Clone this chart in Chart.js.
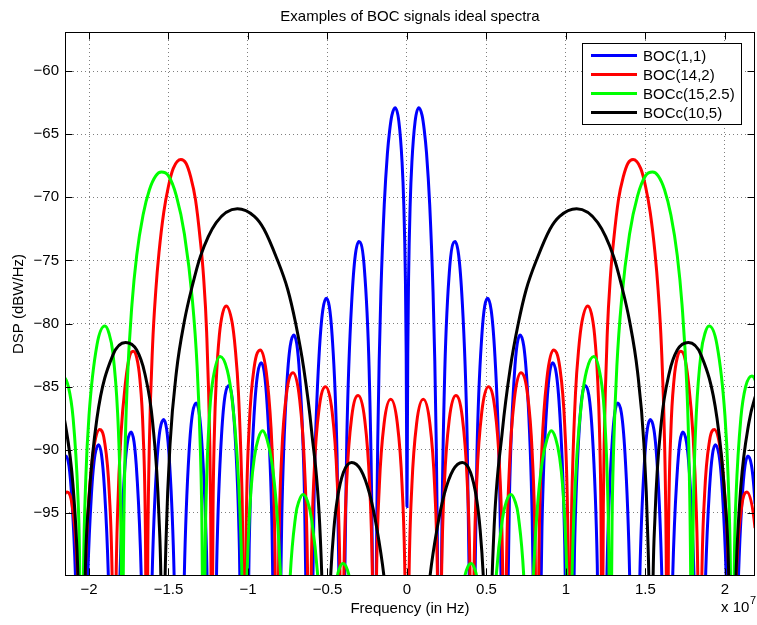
<!DOCTYPE html>
<html>
<head>
<meta charset="utf-8">
<script src="https://cdn.jsdelivr.net/npm/chart.js@4.4.1/dist/chart.umd.min.js"></script>
<style>
  html, body { margin: 0; padding: 0; background: #fff; }
  #wrap { width: 757px; height: 625px; }
</style>
</head>
<body>
<div id="wrap"><canvas id="bocChart" width="757" height="625"></canvas></div>
<script>
// Frequencies in units of 1e7 Hz, levels in dBW/Hz.
// Values far below -100 only mark the spectral nulls, which sit under the axis.
const xTickValues = [-2, -1.5, -1, -0.5, 0, 0.5, 1, 1.5, 2];
const yTickValues = [-95, -90, -85, -80, -75, -70, -65, -60];
const seriesNames = ['BOC(1,1)', 'BOC(14,2)', 'BOCc(15,2.5)', 'BOCc(10,5)'];

const blueFreq = [
  -2.2506, -2.2383, -2.2199, -2.1892, -2.1442, -2.1074, -2.0767, -2.0583,
  -2.046, -2.0337, -2.0153, -1.9846, -1.9396, -1.9028, -1.8721, -1.8537,
  -1.8414, -1.8291, -1.8107, -1.7800, -1.7350, -1.6982, -1.6675, -1.6491,
  -1.6368, -1.6245, -1.6061, -1.5754, -1.5304, -1.4936, -1.4629, -1.4445,
  -1.4322, -1.4199, -1.4015, -1.3708, -1.3258, -1.2890, -1.2583, -1.2399,
  -1.2276, -1.2153, -1.1969, -1.1662, -1.1212, -1.0844, -1.0537, -1.0353,
  -1.023, -1.0107, -0.9923, -0.9616, -0.9166, -0.8798, -0.8491, -0.8307,
  -0.8184, -0.8061, -0.7877, -0.7570, -0.7120, -0.6752, -0.6445, -0.6261,
  -0.6138, -0.6015, -0.5831, -0.5524, -0.5074, -0.4706, -0.4399, -0.4215,
  -0.4092, -0.3969, -0.3785, -0.3478, -0.3028, -0.2660, -0.2353, -0.2169,
  -0.2046, -0.194, -0.190, -0.184, -0.175, -0.164, -0.143, -0.123, -0.109, -0.095, -0.074, -0.051, -0.031, -0.020, -0.010, -0.005, -0.002,
  0,
  0.002, 0.005, 0.010, 0.020, 0.031, 0.051, 0.074, 0.095, 0.109, 0.123, 0.143, 0.164, 0.175, 0.184, 0.190, 0.194, 0.2046,
  0.2169, 0.2353, 0.2660, 0.3028, 0.3478, 0.3785, 0.3969, 0.4092,
  0.4215, 0.4399, 0.4706, 0.5074, 0.5524, 0.5831, 0.6015, 0.6138,
  0.6261, 0.6445, 0.6752, 0.7120, 0.7570, 0.7877, 0.8061, 0.8184,
  0.8307, 0.8491, 0.8798, 0.9166, 0.9616, 0.9923, 1.0107, 1.023,
  1.0353, 1.0537, 1.0844, 1.1212, 1.1662, 1.1969, 1.2153, 1.2276,
  1.2399, 1.2583, 1.2890, 1.3258, 1.3708, 1.4015, 1.4199, 1.4322,
  1.4445, 1.4629, 1.4936, 1.5304, 1.5754, 1.6061, 1.6245, 1.6368,
  1.6491, 1.6675, 1.6982, 1.7350, 1.7800, 1.8107, 1.8291, 1.8414,
  1.8537, 1.8721, 1.9028, 1.9396, 1.9846, 2.0153, 2.0337, 2.046,
  2.0583, 2.0767, 2.1074, 2.1442, 2.1892, 2.2199, 2.2383, 2.2506
];
const blueDb = [
  -135, -120.0, -104.5, -94.3, -90.5, -94.0, -103.9, -119.2,
  -134, -119.1, -103.6, -93.5, -89.6, -93.1, -103.0, -118.3,
  -133, -118.2, -102.7, -92.5, -88.6, -92.1, -102.0, -117.3,
  -132, -117.2, -101.7, -91.5, -87.6, -91.0, -100.9, -116.2,
  -131, -116.0, -100.5, -90.2, -86.3, -89.7, -99.5, -114.8,
  -130, -114.7, -99.1, -88.8, -84.9, -88.2, -98.0, -113.3,
  -128, -113.1, -97.5, -87.2, -83.1, -86.4, -96.1, -111.4,
  -126, -111.1, -95.5, -85.1, -80.9, -84.1, -93.7, -108.9,
  -124, -108.6, -92.9, -82.4, -78.0, -81.0, -90.4, -105.5,
  -120, -104.9, -89.1, -78.3, -73.5, -76.0, -85.0, -99.7,
  -125, -101.2, -95.5, -89.4, -83.0, -77.5, -70.6, -66.5, -64.7, -63.5, -62.9, -64.0, -67.2, -70.6, -76.4, -82.4, -90.3,
  -94.5,
  -90.3, -82.4, -76.4, -70.6, -67.2, -64.0, -62.9, -63.5, -64.7, -66.5, -70.6, -77.5, -83.0, -89.4, -95.5, -101.2, -125,
  -99.7, -85.0, -76.0, -73.5, -78.3, -89.1, -104.9, -120,
  -105.5, -90.4, -81.0, -78.0, -82.4, -92.9, -108.6, -124,
  -108.9, -93.7, -84.1, -80.9, -85.1, -95.5, -111.1, -126,
  -111.4, -96.1, -86.4, -83.1, -87.2, -97.5, -113.1, -128,
  -113.3, -98.0, -88.2, -84.9, -88.8, -99.1, -114.7, -130,
  -114.8, -99.5, -89.7, -86.3, -90.2, -100.5, -116.0, -131,
  -116.2, -100.9, -91.0, -87.6, -91.5, -101.7, -117.2, -132,
  -117.3, -102.0, -92.1, -88.6, -92.5, -102.7, -118.2, -133,
  -118.3, -103.0, -93.1, -89.6, -93.5, -103.6, -119.1, -134,
  -119.2, -103.9, -94.0, -90.5, -94.3, -104.5, -120.0, -135
];

const redFreq = [
  -2.2506, -2.2383, -2.2199, -2.1892, -2.138, -2.1074, -2.0767, -2.0583,
  -2.046, -2.0337, -2.0153, -1.9846, -1.9335, -1.9028, -1.8721, -1.8537,
  -1.8414, -1.830, -1.820, -1.800, -1.770, -1.745, -1.722, -1.700, -1.680, -1.660, -1.645,
  -1.6368, -1.630, -1.620, -1.600, -1.580, -1.560, -1.530, -1.500, -1.470, -1.422, -1.390, -1.360, -1.330, -1.300, -1.280, -1.260, -1.240, -1.235,
  -1.2276, -1.220, -1.211, -1.200, -1.180, -1.160, -1.137, -1.100, -1.080, -1.060, -1.040, -1.0353,
  -1.023, -1.0107, -0.9923, -0.9616, -0.9207, -0.8798, -0.8491, -0.8307,
  -0.8184, -0.8061, -0.7877, -0.7570, -0.7161, -0.6752, -0.6445, -0.6261,
  -0.6138, -0.6015, -0.5831, -0.5524, -0.5115, -0.4706, -0.4399, -0.4215,
  -0.4092, -0.3969, -0.3785, -0.3478, -0.3069, -0.2660, -0.2353, -0.2169,
  -0.2046, -0.1923, -0.1739, -0.1432, -0.1023, -0.0614, -0.0307, -0.0123,
  0,
  0.0123, 0.0307, 0.0614, 0.1023, 0.1432, 0.1739, 0.1923, 0.2046,
  0.2169, 0.2353, 0.2660, 0.3069, 0.3478, 0.3785, 0.3969, 0.4092,
  0.4215, 0.4399, 0.4706, 0.5115, 0.5524, 0.5831, 0.6015, 0.6138,
  0.6261, 0.6445, 0.6752, 0.7161, 0.7570, 0.7877, 0.8061, 0.8184,
  0.8307, 0.8491, 0.8798, 0.9207, 0.9616, 0.9923, 1.0107, 1.023,
  1.0353, 1.040, 1.060, 1.080, 1.100, 1.137, 1.160, 1.180, 1.200, 1.211, 1.220, 1.2276,
  1.235, 1.240, 1.260, 1.280, 1.300, 1.330, 1.360, 1.390, 1.422, 1.470, 1.500, 1.530, 1.560, 1.580, 1.600, 1.620, 1.630, 1.6368,
  1.645, 1.660, 1.680, 1.700, 1.722, 1.745, 1.770, 1.800, 1.820, 1.830, 1.8414,
  1.8537, 1.8721, 1.9028, 1.9335, 1.9846, 2.0153, 2.0337, 2.046,
  2.0583, 2.0767, 2.1074, 2.138, 2.1892, 2.2199, 2.2383, 2.2506
];
const redDb = [
  -125, -109.9, -102.0, -96.2, -93.35, -94.3, -98.6, -105.9,
  -121, -105.3, -97.2, -91.4, -88.4, -89.3, -93.5, -100.7,
  -116, -100.6, -94.9, -89.0, -84.6, -82.6, -82.2, -82.7, -84.4, -88.5, -96.7,
  -112, -97.6, -89.3, -81.7, -77.4, -74.4, -71.2, -69.1, -67.7, -67.0, -67.3, -68.4, -70.2, -73.4, -76.2, -80.7, -89.7, -94.5,
  -110, -94.9, -88.5, -84.6, -80.9, -79.2, -78.6, -79.9, -82.0, -85.5, -92.3, -95.0,
  -111, -95.6, -88.1, -83.5, -82.1, -84.4, -89.8, -97.7,
  -113, -97.8, -90.3, -85.5, -83.9, -86.0, -91.3, -99.1,
  -114, -99.2, -91.6, -86.7, -85.0, -87.0, -92.2, -99.9,
  -115, -100.0, -92.4, -87.4, -85.7, -87.6, -92.7, -100.5,
  -116, -100.55, -92.86, -87.84, -86.0, -87.84, -92.86, -100.55,
  -116,
  -100.55, -92.86, -87.84, -86.0, -87.84, -92.86, -100.55, -116,
  -100.5, -92.7, -87.6, -85.7, -87.4, -92.4, -100.0, -115,
  -99.9, -92.2, -87.0, -85.0, -86.7, -91.6, -99.2, -114,
  -99.1, -91.3, -86.0, -83.9, -85.5, -90.3, -97.8, -113,
  -97.7, -89.8, -84.4, -82.1, -83.5, -88.1, -95.6, -111,
  -95.0, -92.3, -85.5, -82.0, -79.9, -78.6, -79.2, -80.9, -84.6, -88.5, -94.9, -110,
  -94.5, -89.7, -80.7, -76.2, -73.4, -70.2, -68.4, -67.3, -67.0, -67.7, -69.1, -71.2, -74.4, -77.4, -81.7, -89.3, -97.6, -112,
  -96.7, -88.5, -84.4, -82.7, -82.2, -82.6, -84.6, -89.0, -94.9, -100.6, -116,
  -100.7, -93.5, -89.3, -88.4, -91.4, -97.2, -105.3, -121,
  -105.9, -98.6, -94.3, -93.35, -96.2, -102.0, -109.9, -125
];

const greenFreq = [
  -2.3018, -2.250, -2.220, -2.190, -2.170, -2.130, -2.100, -2.070, -2.060,
  -2.046, -2.035, -2.020, -2.000, -1.950, -1.900, -1.875, -1.850, -1.820, -1.805, -1.797,
  -1.7903, -1.785, -1.775, -1.760, -1.730, -1.700, -1.660, -1.620, -1.580, -1.545, -1.500, -1.450, -1.400, -1.350, -1.320, -1.300, -1.290,
  -1.2788, -1.270, -1.260, -1.240, -1.220, -1.175, -1.130, -1.100, -1.070, -1.050, -1.035,
  -1.023, -1.012, -1.000, -0.980, -0.960, -0.935, -0.908, -0.880, -0.850, -0.820, -0.800, -0.790,
  -0.7673, -0.755, -0.740, -0.700, -0.680, -0.654, -0.625, -0.600, -0.560, -0.540,
  -0.5115, -0.480, -0.440, -0.425, -0.405, -0.385, -0.360, -0.340, -0.300,
  -0.2558, -0.128,
  0,
  0.128, 0.2558,
  0.300, 0.340, 0.360, 0.385, 0.405, 0.425, 0.440, 0.480, 0.5115,
  0.540, 0.560, 0.600, 0.625, 0.654, 0.680, 0.700, 0.740, 0.755, 0.7673,
  0.790, 0.800, 0.820, 0.850, 0.880, 0.908, 0.935, 0.960, 0.980, 1.000, 1.012, 1.023,
  1.035, 1.050, 1.070, 1.100, 1.130, 1.175, 1.220, 1.240, 1.260, 1.270, 1.2788,
  1.290, 1.300, 1.320, 1.350, 1.400, 1.450, 1.500, 1.545, 1.580, 1.620, 1.660, 1.700, 1.730, 1.760, 1.775, 1.785, 1.7903,
  1.797, 1.805, 1.820, 1.850, 1.875, 1.900, 1.950, 2.000, 2.020, 2.035, 2.046,
  2.060, 2.070, 2.100, 2.130, 2.170, 2.190, 2.220, 2.250, 2.3018
];
const greenDb = [
  -130, -89.5, -86.2, -84.5, -84.15, -85.0, -87.5, -93.6, -98.0,
  -115, -99.8, -92.2, -87.3, -81.7, -80.2, -80.75, -82.3, -87.1, -92.5, -99.1,
  -115, -100.9, -91.3, -84.9, -78.5, -74.6, -71.4, -69.4, -68.3, -68.0, -68.3, -69.9, -72.9, -78.1, -83.4, -89.8, -95.7,
  -112, -98.5, -92.3, -86.8, -84.4, -82.6, -83.7, -86.0, -90.2, -95.1, -102.4,
  -118, -103.75, -97.7, -93.0, -90.6, -89.1, -88.5, -89.2, -91.0, -94.6, -98.8, -102.0,
  -122, -107.9, -101.4, -95.2, -94.1, -93.55, -94.1, -95.5, -100.2, -104.9,
  -122, -105.3, -100.15, -99.4, -99.0, -99.2, -100.2, -101.7, -107.3,
  -125, -112,
  -130,
  -112, -125,
  -107.3, -101.7, -100.2, -99.2, -99.0, -99.4, -100.15, -105.3, -122,
  -104.9, -100.2, -95.5, -94.1, -93.55, -94.1, -95.2, -101.4, -107.9, -122,
  -102.0, -98.8, -94.6, -91.0, -89.2, -88.5, -89.1, -90.6, -93.0, -97.7, -103.75, -118,
  -102.4, -95.1, -90.2, -86.0, -83.7, -82.6, -84.4, -86.8, -92.3, -98.5, -112,
  -95.7, -89.8, -83.4, -78.1, -72.9, -69.9, -68.3, -68.0, -68.3, -69.4, -71.4, -74.6, -78.5, -84.9, -91.3, -100.9, -115,
  -99.1, -92.5, -87.1, -82.3, -80.75, -80.2, -81.7, -87.3, -92.2, -99.8, -115,
  -98.0, -93.6, -87.5, -85.0, -84.15, -84.5, -86.2, -89.5, -130
];

const blackFreq = [
  -2.320, -2.250, -2.190, -2.150, -2.100, -2.070, -2.058,
  -2.046, -2.025, -2.000, -1.950, -1.850, -1.770, -1.700, -1.650, -1.600, -1.560, -1.545,
  -1.5345, -1.525, -1.515, -1.490, -1.450, -1.400, -1.350, -1.300, -1.200, -1.067, -0.960, -0.900, -0.820, -0.750, -0.700, -0.650, -0.600, -0.545, -0.525,
  -0.5115, -0.495, -0.480, -0.460, -0.438, -0.400, -0.348, -0.290, -0.235, -0.190, -0.145, -0.100, -0.050,
  0,
  0.050, 0.100, 0.145, 0.190, 0.235, 0.290, 0.348, 0.400, 0.438, 0.460, 0.480, 0.495, 0.5115,
  0.525, 0.545, 0.600, 0.650, 0.700, 0.750, 0.820, 0.900, 0.960, 1.067, 1.200, 1.300, 1.350, 1.400, 1.450, 1.490, 1.515, 1.525, 1.5345,
  1.545, 1.560, 1.600, 1.650, 1.700, 1.770, 1.850, 1.950, 2.000, 2.025, 2.046,
  2.058, 2.070, 2.100, 2.150, 2.190, 2.250, 2.320
];
const blackDb = [
  -83.0, -84.1, -85.8, -87.9, -92.9, -99.7, -105.7,
  -122, -100.7, -93.9, -87.5, -82.5, -81.5, -82.1, -83.9, -87.8, -95.3, -102.8,
  -122, -103.4, -97.0, -89.5, -83.8, -79.8, -77.0, -74.7, -72.0, -70.9, -71.5, -72.5, -74.8, -77.3, -80.0, -83.5, -88.5, -97.0, -105.9,
  -122, -105.0, -100.0, -96.3, -93.9, -91.8, -91.0, -91.6, -93.5, -96.2, -100.0, -106.0, -118.0,
  -130,
  -118.0, -106.0, -100.0, -96.2, -93.5, -91.6, -91.0, -91.8, -93.9, -96.3, -100.0, -105.0, -122,
  -105.9, -97.0, -88.5, -83.5, -80.0, -77.3, -74.8, -72.5, -71.5, -70.9, -72.0, -74.7, -77.0, -79.8, -83.8, -89.5, -97.0, -103.4, -122,
  -102.8, -95.3, -87.8, -83.9, -82.1, -81.5, -82.5, -87.5, -93.9, -100.7, -122,
  -105.7, -99.7, -92.9, -87.9, -85.8, -84.1, -83.0
];

const FONT_FAMILY = '"Liberation Sans", Arial, Helvetica, sans-serif';

function toPoints(xs, ys) {
  if (xs.length !== ys.length) console.warn('length mismatch', xs.length, ys.length);
  return xs.map((f, i) => ({ x: f, y: ys[i] }));
}

function lineSet(label, xs, ys, color, order) {
  return {
    label: label,
    data: toPoints(xs, ys),
    borderColor: color,
    backgroundColor: color,
    borderWidth: 3,
    pointRadius: 0,
    fill: false,
    cubicInterpolationMode: 'monotone',
    clip: 0,
    order: order
  };
}

// box, inward ticks, legend and all the titles
const decorations = {
  id: 'decorations',
  afterDraw(chart) {
    const { ctx, chartArea: a, scales } = chart;
    const L = Math.round(a.left) + 0.5, R = Math.round(a.right) - 0.5;
    const T = Math.round(a.top) + 0.5, B = Math.round(a.bottom) - 0.5;
    ctx.save();
    ctx.strokeStyle = '#000';
    ctx.lineWidth = 1;
    ctx.setLineDash([]);
    ctx.strokeRect(L, T, R - L, B - T);

    const tick = 7;
    ctx.beginPath();
    xTickValues.forEach(v => {
      const px = Math.round(scales.x.getPixelForValue(v)) + 0.5;
      ctx.moveTo(px, B); ctx.lineTo(px, B - tick);
      ctx.moveTo(px, T); ctx.lineTo(px, T + tick);
    });
    yTickValues.forEach(v => {
      const py = Math.round(scales.y.getPixelForValue(v)) + 0.5;
      ctx.moveTo(L, py); ctx.lineTo(L + tick, py);
      ctx.moveTo(R, py); ctx.lineTo(R - tick, py);
    });
    ctx.stroke();

    // legend
    const lx = 582, ly = 43, lw = 159, lh = 81;
    ctx.fillStyle = '#fff';
    ctx.fillRect(lx, ly, lw, lh);
    ctx.strokeRect(lx + 0.5, ly + 0.5, lw, lh);
    ctx.font = '15px ' + FONT_FAMILY;
    ctx.textAlign = 'left';
    ctx.textBaseline = 'middle';
    chart.data.datasets.forEach((ds, i) => {
      const ry = 55.5 + i * 19;
      ctx.strokeStyle = ds.borderColor;
      ctx.lineWidth = 3;
      ctx.beginPath();
      ctx.moveTo(591, ry); ctx.lineTo(637, ry);
      ctx.stroke();
      ctx.fillStyle = '#000';
      ctx.fillText(ds.label, 643, ry + 1);
    });

    // titles
    ctx.fillStyle = '#000';
    ctx.textAlign = 'center';
    ctx.textBaseline = 'alphabetic';
    ctx.fillText('Examples of BOC signals ideal spectra', (a.left + a.right) / 2, 21);
    ctx.fillText('Frequency (in Hz)', (a.left + a.right) / 2, 613);

    ctx.textAlign = 'left';
    ctx.fillText('x 10', 721, 612);
    ctx.font = '11px ' + FONT_FAMILY;
    ctx.fillText('7', 750, 604);

    ctx.font = '15px ' + FONT_FAMILY;
    ctx.translate(19, (a.top + a.bottom) / 2);
    ctx.rotate(-Math.PI / 2);
    ctx.textAlign = 'center';
    ctx.textBaseline = 'middle';
    ctx.fillText('DSP (dBW/Hz)', 0, 0);
    ctx.restore();
  }
};

const ctx = document.getElementById('bocChart').getContext('2d');
const bocChart = new Chart(ctx, {
  type: 'line',
  data: {
    datasets: [
      lineSet(seriesNames[0], blueFreq, blueDb, '#0000ff', 4),
      lineSet(seriesNames[1], redFreq, redDb, '#ff0000', 3),
      lineSet(seriesNames[2], greenFreq, greenDb, '#00ff00', 2),
      lineSet(seriesNames[3], blackFreq, blackDb, '#000000', 1)
    ]
  },
  options: {
    responsive: false,
    animation: false,
    devicePixelRatio: 1,
    layout: { padding: { left: 0, right: 2, top: 32, bottom: 0 } },
    elements: { line: { capBezierPoints: false } },
    plugins: { legend: { display: false }, tooltip: { enabled: false }, title: { display: false } },
    scales: {
      x: {
        type: 'linear',
        position: 'bottom',
        min: -2.151,
        max: 2.189,
        afterBuildTicks: (scale) => { scale.ticks = xTickValues.map(v => ({ value: v })); },
        afterFit: (scale) => { scale.height = 49; },
        ticks: {
          autoSkip: false,
          maxRotation: 0,
          padding: 5,
          color: '#000',
          font: { family: FONT_FAMILY, size: 15 },
          callback: (v) => (v < 0 ? '\u2212' : '') + Math.abs(v)
        },
        grid: { color: 'rgba(0,0,0,0.5)', lineWidth: 1, drawTicks: false },
        border: { display: false, dash: [1, 3] }
      },
      y: {
        type: 'linear',
        position: 'left',
        min: -100,
        max: -56.9,
        afterBuildTicks: (scale) => { scale.ticks = yTickValues.map(v => ({ value: v })); },
        afterFit: (scale) => { scale.width = 65; },
        ticks: {
          padding: 6,
          color: '#000',
          font: { family: FONT_FAMILY, size: 15 },
          callback: (v) => '\u2212' + Math.abs(v)
        },
        grid: { color: 'rgba(0,0,0,0.5)', lineWidth: 1, drawTicks: false },
        border: { display: false, dash: [1, 3] }
      }
    }
  },
  plugins: [decorations]
});
</script>
</body>
</html>
